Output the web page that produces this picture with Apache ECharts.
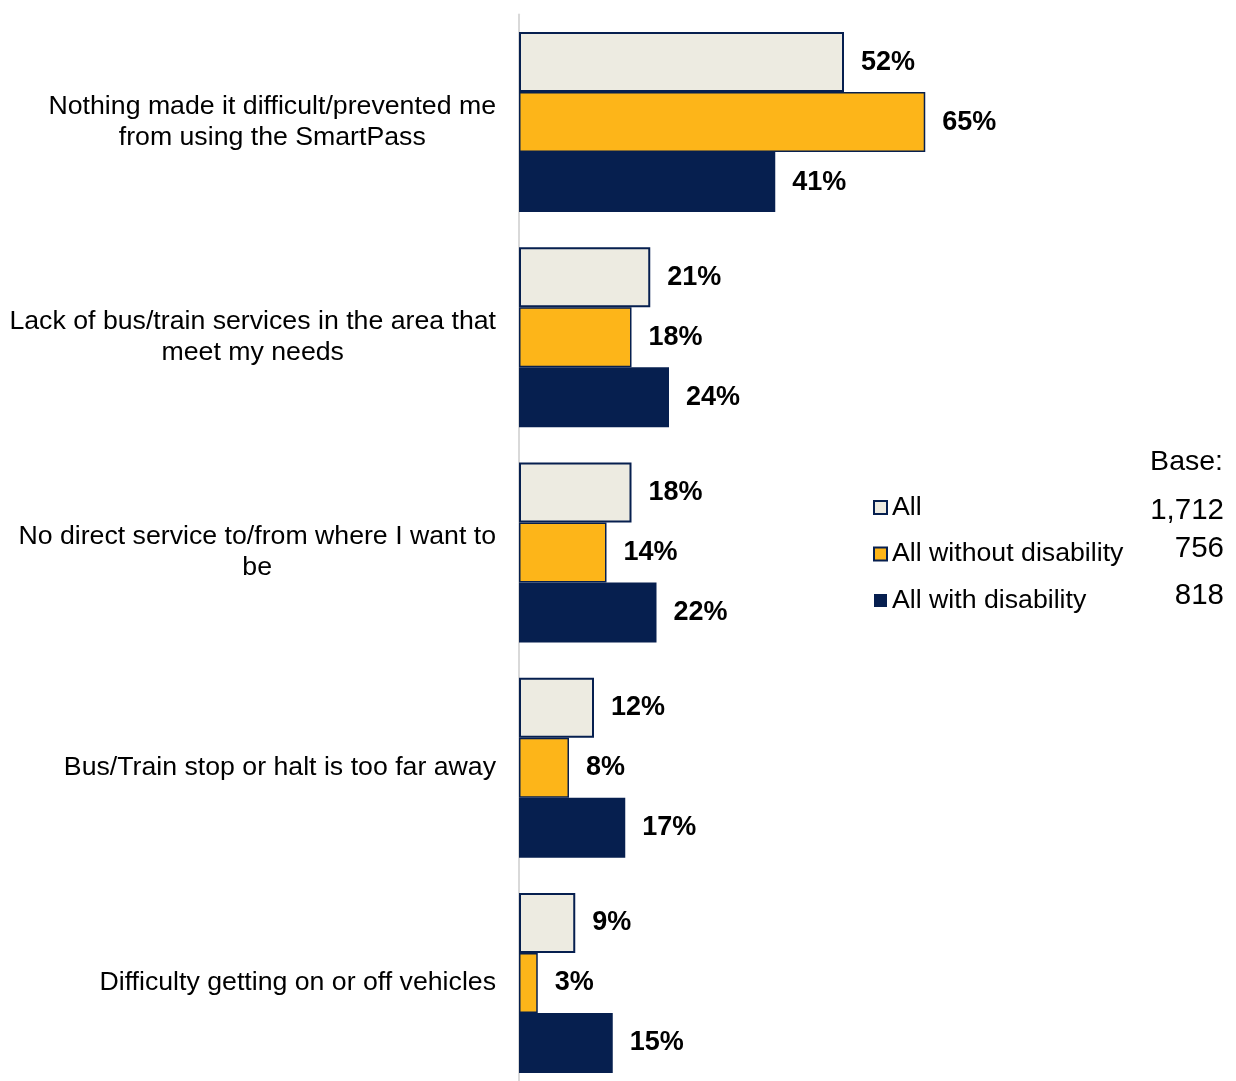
<!DOCTYPE html>
<html>
<head>
<meta charset="utf-8">
<style>
  html, body { margin: 0; padding: 0; background: #ffffff; }
  #chart { width: 1236px; height: 1081px; }
</style>
<script src="https://cdn.jsdelivr.net/npm/echarts@6/dist/echarts.min.js"></script>
</head>
<body>
<div id="chart"></div>
<script>
// Reasons that made the SmartPass difficult to use (% of respondents)
const categories = [
  'Nothing made it difficult/prevented me\nfrom using the SmartPass',
  'Lack of bus/train services in the area that\nmeet my needs',
  'No direct service to/from where I want to\nbe',
  'Bus/Train stop or halt is too far away',
  'Difficulty getting on or off vehicles'
];
const seriesNames = ['All', 'All without disability', 'All with disability'];
const allValues = [52, 21, 18, 12, 9];
const withoutDisability = [65, 18, 14, 8, 3];
const withDisability = [41, 24, 22, 17, 15];
const baseTitle = 'Base:';
const baseLabels = ['1,712', '756', '818'];

const NAVY = '#061f4f';
const CREAM = '#edebe1';
const GOLD = '#fdb519';
const FONT = '"Liberation Sans", Arial, sans-serif';

const chart = echarts.init(document.getElementById('chart'), null, { renderer: 'canvas' });

function barSeries(name, data, color, borderWidth) {
  return {
    name: name,
    type: 'bar',
    data: data,
    barWidth: 60,
    barGap: '0%',
    itemStyle: { color: color, borderColor: NAVY, borderWidth: borderWidth },
    label: {
      show: true,
      position: 'right',
      distance: 17,
      formatter: '{c}%',
      color: '#000000',
      fontFamily: FONT,
      fontWeight: 'bold',
      fontSize: 27
    }
  };
}

chart.setOption({
  animation: false,
  backgroundColor: '#ffffff',
  grid: {
    left: 519, width: 625, top: 14.5, height: 1076,
    containLabel: false,
    outerBoundsMode: 'none'
  },
  xAxis: {
    type: 'value',
    min: 0,
    max: 100,
    show: false
  },
  yAxis: {
    type: 'category',
    inverse: true,
    data: categories,
    axisLine: { show: true, lineStyle: { color: '#d9d9d9', width: 2 } },
    axisTick: { show: false },
    axisLabel: {
      margin: 23,
      fontFamily: FONT,
      fontSize: 26.7,
      color: '#000000',
      lineHeight: 31,
      formatter: function (value) {
        return value.split('\n').map(function (line) { return '{c|' + line + '}'; }).join('\n');
      },
      rich: {
        c: { align: 'center', fontFamily: FONT, fontSize: 26.7, lineHeight: 31, color: '#000000' }
      }
    }
  },
  legend: {
    data: seriesNames,
    orient: 'vertical',
    left: 873,
    top: 494,
    padding: 0,
    icon: 'rect',
    itemWidth: 13,
    itemHeight: 13,
    itemGap: 19.5,
    textStyle: { fontFamily: FONT, fontSize: 26.7, lineHeight: 26, color: '#000000' },
    selectedMode: false
  },
  graphic: [
    {
      type: 'text',
      right: 13,
      top: 448,
      style: { text: baseTitle, font: '28.5px ' + FONT, fill: '#000000' }
    }
  ].concat(baseLabels.map(function (t, i) {
    const tops = [496, 534, 581];
    return {
      type: 'text',
      right: 12,
      top: tops[i],
      style: { text: t, font: '29.5px ' + FONT, fill: '#000000' }
    };
  })),
  series: [
    barSeries(seriesNames[0], allValues, CREAM, 2),
    barSeries(seriesNames[1], withoutDisability, GOLD, 1.5),
    barSeries(seriesNames[2], withDisability, NAVY, 0)
  ]
});
</script>
</body>
</html>
